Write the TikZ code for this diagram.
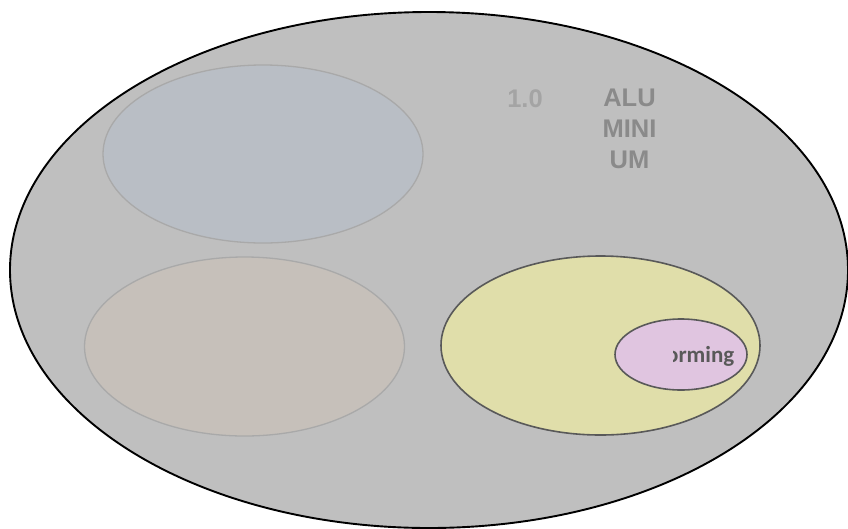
\documentclass[tikz,border=0pt]{standalone}
\usepackage{fontspec}
\newfontfamily\arialfont{Liberation Sans}
\newfontfamily\califont{Carlito}[BoldFont={Carlito Bold}]
\definecolor{bigfill}{HTML}{BFBFBF}
\definecolor{bluefill}{HTML}{B9BEC5}
\definecolor{beigefill}{HTML}{C6C0BA}
\definecolor{softline}{HTML}{A9A9A9}
\definecolor{yellowfill}{HTML}{E0DEAA}
\definecolor{pinkfill}{HTML}{E0C5E0}
\definecolor{darkline}{HTML}{595959}
\definecolor{textdark}{HTML}{595959}
\definecolor{numgray}{HTML}{A4A4A4}
\definecolor{wordgray}{HTML}{8A8A8A}
\tikzset{
  outerell/.style={fill=bigfill, draw=black, line width=1.9pt},
  softell/.style={draw=softline, line width=1.3pt},
  hardell/.style={draw=darkline, line width=1.6pt},
  bigword/.style={font=\arialfont\bfseries\fontsize{25.5}{31}\selectfont, inner sep=0pt},
}
\begin{document}
\begin{tikzpicture}[x=1pt,y=-1pt]
\useasboundingbox (0,0) rectangle (848,528);
\fill[white] (0,0) rectangle (848,528);
\draw[outerell] (429,270) ellipse [x radius=419, y radius=258];
\draw[softell, fill=bluefill] (263,154) ellipse [x radius=160, y radius=89];
\draw[softell, fill=beigefill] (244.5,346.5) ellipse [x radius=160, y radius=89.5];
\draw[hardell, fill=yellowfill] (600.5,345.5) ellipse [x radius=159.5, y radius=89.5];
\draw[hardell, fill=pinkfill] (681,354.5) ellipse [x radius=66, y radius=35.5];
\begin{scope}
  \clip (673.5,330) rectangle (760,380);
  \node[anchor=base east, inner sep=0pt, text=textdark,
        font=\califont\bfseries\fontsize{23}{27}\selectfont] (forming) at (734.5,362.5) {orming};
\end{scope}
\node[bigword, text=numgray, anchor=base] (num) at (525,107) {1.0};
\node[bigword, text=wordgray, anchor=base] (alu) at (629.5,106.5) {ALU};
\node[bigword, text=wordgray, anchor=base] (mini) at (629.5,137.5) {MINI};
\node[bigword, text=wordgray, anchor=base] (um) at (629.5,168) {UM};
\end{tikzpicture}
\end{document}
